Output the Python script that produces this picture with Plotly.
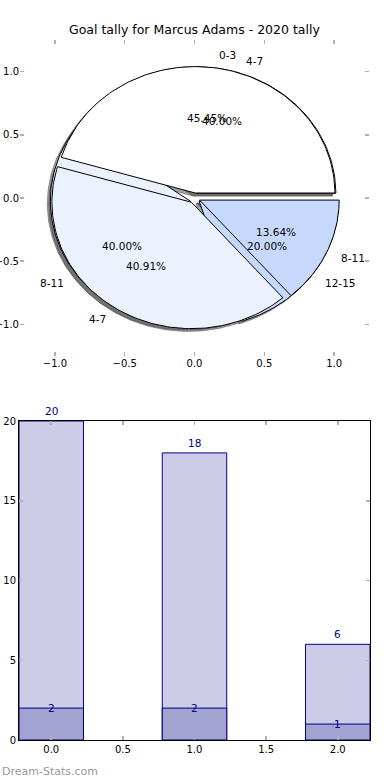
import numpy as np
import plotly.graph_objects as go

# ---- data ----
title = "Goal tally for Marcus Adams - 2020 tally"
pie_a_labels = ["0-3", "4-7", "8-11"]
pie_a_values = [20, 18, 6]
pie_b_labels = ["4-7", "8-11", "12-15"]
pie_b_values = [2, 2, 1]
pie_colors = ["#ffffff", "#ebf2fe", "#c6d9fd"]
explode = 0.04

bar_x = [0, 1, 2]
bar_outer = [20, 18, 6]
bar_inner = [2, 2, 1]
pie_ticks = [-1.0, -0.5, 0.0, 0.5, 1.0]
bar_xticks = [0.0, 0.5, 1.0, 1.5, 2.0]
bar_yticks = [0, 5, 10, 15, 20]

FONT = "DejaVu Sans"
W, H = 390, 780


def fy(px):
    return 1 - px / H


def fx(px):
    return px / W


def wedges(values):
    vals = np.asarray(values, dtype=float)
    fr = vals / vals.sum()
    t = 0.0
    out = []
    for f in fr:
        t1, t2 = t, t + 360 * f
        mid = np.deg2rad((t1 + t2) / 2)
        cx, cy = explode * np.cos(mid), explode * np.sin(mid)
        th = np.deg2rad(np.linspace(t1, t2, 120))
        xs = np.concatenate([[cx], cx + np.cos(th), [cx]])
        ys = np.concatenate([[cy], cy + np.sin(th), [cy]])
        out.append((xs, ys, mid, cx, cy, f))
        t = t2
    return out


wa = wedges(pie_a_values)
wb = wedges(pie_b_values)

fig = go.Figure()
sh = -0.022
# shadows (behind everything)
for ws in (wa, wb):
    for xs, ys, mid, cx, cy, f in ws:
        fig.add_trace(go.Scatter(x=xs + sh, y=ys + sh, mode="lines", fill="toself",
                                 fillcolor="rgba(70,70,70,0.5)",
                                 line=dict(color="rgba(70,70,70,0.5)", width=1),
                                 hoverinfo="skip", showlegend=False, xaxis="x", yaxis="y"))
# pie B first (underneath), then pie A
for ws in (wb, wa):
    for i, (xs, ys, mid, cx, cy, f) in enumerate(ws):
        fig.add_trace(go.Scatter(x=xs, y=ys, mode="lines", fill="toself",
                                 fillcolor=pie_colors[i],
                                 line=dict(color="black", width=1),
                                 hoverinfo="skip", showlegend=False, xaxis="x", yaxis="y"))

# labels
for ws, labels in ((wa, pie_a_labels), (wb, pie_b_labels)):
    for (xs, ys, mid, cx, cy, f), lab in zip(ws, labels):
        lx = cx + 1.1 * np.cos(mid)
        ly = cy + 1.1 * np.sin(mid)
        fig.add_annotation(x=lx, y=ly, xref="x", yref="y", text=lab, showarrow=False,
                           xanchor="left" if lx > 0 else "right", yanchor="middle",
                           font=dict(family=FONT, size=10.5, color="black"))
        px_ = cx + 0.6 * np.cos(mid)
        py_ = cy + 0.6 * np.sin(mid)
        fig.add_annotation(x=px_, y=py_, xref="x", yref="y", text="%.2f%%" % (f * 100),
                           showarrow=False, xanchor="center", yanchor="middle",
                           font=dict(family=FONT, size=10.5, color="black"))

# bars
fig.add_trace(go.Bar(x=bar_x, y=bar_outer, width=0.45, marker=dict(color="#ccccE6",
                     line=dict(color="#000080", width=1)), xaxis="x2", yaxis="y2",
                     showlegend=False, hoverinfo="skip"))
fig.add_trace(go.Bar(x=bar_x, y=bar_inner, width=0.45, marker=dict(color="#a3a3d1",
                     line=dict(color="#000080", width=1)), xaxis="x2", yaxis="y2",
                     showlegend=False, hoverinfo="skip"))
for xv, v in zip(bar_x, bar_outer):
    fig.add_annotation(x=xv, y=v, xref="x2", yref="y2", text=str(v), showarrow=False,
                       xanchor="center", yanchor="bottom", yshift=2,
                       font=dict(family=FONT, size=10.5, color="#000080"))
for xv, v in zip(bar_x, bar_inner):
    fig.add_annotation(x=xv, y=v, xref="x2", yref="y2", text=str(v), showarrow=False,
                       xanchor="center", yanchor="middle",
                       font=dict(family=FONT, size=10.5, color="#000080"))

tickfont = dict(family=FONT, size=10, color="black")


def fmt(v):
    s = "%.1f" % abs(v)
    return ("\u2212" + s) if v < 0 else s


common = dict(showgrid=False, zeroline=False, ticks="inside", ticklen=4, tickwidth=1.5,
              tickcolor="#b0b0b0", tickfont=tickfont, fixedrange=True, automargin=False)
fig.update_layout(
    width=W, height=H, margin=dict(l=0, r=0, t=0, b=0, autoexpand=False),
    paper_bgcolor="white", plot_bgcolor="white", barmode="overlay",
    xaxis=dict(domain=[fx(20), fx(369)], range=[-1.25, 1.25], anchor="y",
               tickvals=pie_ticks, ticktext=[fmt(v) for v in pie_ticks],
               showline=False, mirror="ticks", **common),
    yaxis=dict(domain=[fy(356), fy(40)], range=[-1.25, 1.25], anchor="x",
               tickvals=pie_ticks, ticktext=[fmt(v) for v in pie_ticks],
               showline=False, mirror="ticks", **common),
    xaxis2=dict(domain=[fx(19), fx(370)], range=[-0.225, 2.225], anchor="y2",
                tickvals=bar_xticks, ticktext=["%.1f" % v for v in bar_xticks],
                showline=True, linecolor="black", linewidth=1, mirror="ticks", **common),
    yaxis2=dict(domain=[fy(740), fy(421)], range=[0, 20], anchor="x2",
                tickvals=bar_yticks, ticktext=[str(v) for v in bar_yticks],
                showline=True, linecolor="black", linewidth=1, mirror="ticks", **common),
)
fig.add_annotation(x=0.5 * (fx(20) + fx(369)), y=fy(30), xref="paper", yref="paper",
                   text=title, showarrow=False, xanchor="center", yanchor="middle",
                   font=dict(family=FONT, size=12.5, color="black"))
fig.add_annotation(x=0, y=fy(771), xref="paper", yref="paper", text="Dream-Stats.com",
                   showarrow=False, xanchor="left", yanchor="middle",
                   font=dict(family=FONT, size=11, color="#999999"))

fig.write_html("out.html", config={"displayModeBar": False, "staticPlot": True},
               post_script="document.body.style.margin='0';document.body.style.padding='0';"
                           "document.body.style.overflow='hidden';"
                           "document.documentElement.style.overflow='hidden';")
